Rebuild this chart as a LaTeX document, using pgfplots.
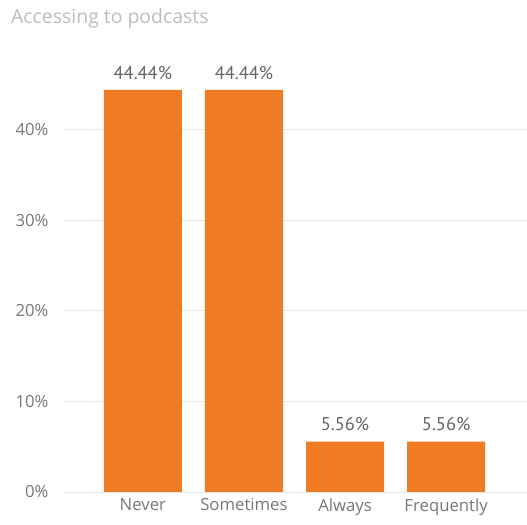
\documentclass[border=0pt]{standalone}
\usepackage{pgfplots}
\pgfplotsset{compat=1.18}
\usepackage{fontspec}
\setmainfont{Open Sans}
\newfontfamily\labfont{PT Sans}
\definecolor{barorange}{HTML}{F07B25}
\definecolor{gridgray}{HTML}{EAEAEA}
\definecolor{tickgray}{HTML}{777777}
\definecolor{titlegray}{HTML}{BDBDBD}
\definecolor{labgray}{HTML}{656565}
\begin{document}
\begin{tikzpicture}[x=1bp,y=1bp]
\useasboundingbox (0,0) rectangle (527,525);
\node[anchor=west, text=titlegray, font=\fontsize{19.5}{23}\selectfont, inner sep=0pt] at (11,507) {Accessing to podcasts};
\begin{axis}[
  at={(64bp,33bp)}, anchor=south west,
  scale only axis,
  width=463bp, height=434.4bp,
  xmin=-0.78, xmax=3.80,
  ymin=0, ymax=48,
  axis line style={draw=none},
  major tick length=0pt,
  ytick={0,10,20,30,40},
  yticklabels={0\%,10\%,20\%,30\%,40\%},
  ymajorgrids,
  grid style={gridgray, line width=1pt},
  xtick=data,
  xticklabels={Never,Sometimes,Always,Frequently},
  ticklabel style={text=tickgray, font=\fontsize{16.8}{20}\selectfont},
  yticklabel style={xshift=-12bp},
  xticklabel style={yshift=-3bp},
  /pgf/number format/assume math mode=true,
  ybar, bar width=78bp,
  nodes near coords={\pgfmathprintnumber[fixed,fixed zerofill,precision=2]{\pgfplotspointmeta}\%},
  nodes near coords style={text=labgray, font=\labfont\fontsize{18.5}{22}\selectfont, yshift=7bp},
  clip=false,
]
\addplot[fill=barorange, draw=none] coordinates {(0,44.44) (1,44.44) (2,5.56) (3,5.56)};
\end{axis}
\end{tikzpicture}
\end{document}
